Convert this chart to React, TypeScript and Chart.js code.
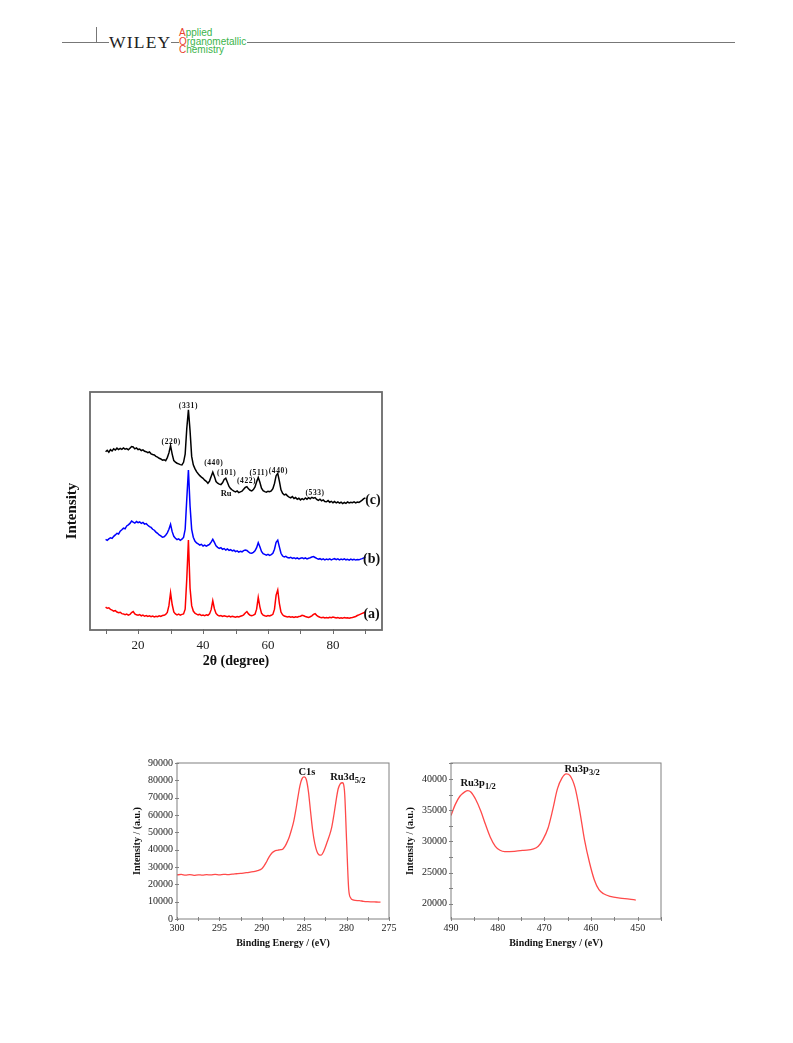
import React, { useEffect, useRef } from 'react';
import { Chart, registerables } from 'chart.js';

Chart.register(...registerables);

const SERIF = '"Liberation Serif", "Times New Roman", serif';
const SANS = '"Liberation Sans", Arial, sans-serif';

// ---------------- XRD (top chart) ----------------
const xrdTheta = [
  10, 10.5, 11, 11.5, 12, 12.5, 13, 13.5, 14, 14.5,
  15, 15.5, 16, 16.5, 17, 17.5, 18, 18.5, 19, 19.5,
  20, 20.5, 21, 21.5, 22, 22.5, 23, 23.5, 24, 24.5,
  25, 25.5, 26, 26.5, 27, 27.5, 28, 28.5, 29, 29.5,
  30, 30.5, 31, 31.5, 32, 32.5, 33, 33.5, 34, 34.5,
  35, 35.5, 36, 36.5, 37, 37.5, 38, 38.5, 39, 39.5,
  40, 40.5, 41, 41.5, 42, 42.5, 43, 43.5, 44, 44.5,
  45, 45.5, 46, 46.5, 47, 47.5, 48, 48.5, 49, 49.5,
  50, 50.5, 51, 51.5, 52, 52.5, 53, 53.5, 54, 54.5,
  55, 55.5, 56, 56.5, 57, 57.5, 58, 58.5, 59, 59.5,
  60, 60.5, 61, 61.5, 62, 62.5, 63, 63.5, 64, 64.5,
  65, 65.5, 66, 66.5, 67, 67.5, 68, 68.5, 69, 69.5,
  70, 70.5, 71, 71.5, 72, 72.5, 73, 73.5, 74, 74.5,
  75, 75.5, 76, 76.5, 77, 77.5, 78, 78.5, 79, 79.5,
  80, 80.5, 81, 81.5, 82, 82.5, 83, 83.5, 84, 84.5,
  85, 85.5, 86, 86.5, 87, 87.5, 88, 88.5, 89, 89.5,
  90,
];

// (a) red
const xrdA = [
  8.9, 8.4, 8.6, 7.9, 7.6, 7.2, 7.4, 6.8, 6.5, 6.7,
  6.1, 6.0, 5.7, 5.9, 5.5, 5.8, 6.6, 7.0, 6.0, 5.6,
  5.4, 5.7, 5.2, 5.5, 5.0, 5.3, 4.9, 5.2, 4.8, 5.1,
  4.7, 5.0, 4.8, 5.2, 4.9, 5.3, 5.4, 5.8, 6.6, 9.5,
  15.0, 10.0, 6.8, 6.0, 5.6, 5.9, 5.5, 5.8, 6.0, 8.0,
  21.0, 37.4, 17.0, 9.5, 7.2, 6.3, 5.9, 5.6, 5.8, 5.3,
  5.5, 5.2, 5.6, 5.4, 6.0, 7.8, 11.6, 8.2, 6.2, 5.5,
  5.1, 5.3, 4.9, 5.2, 5.0, 4.8, 5.1, 4.7, 5.0, 4.8,
  4.6, 4.9, 4.7, 5.0, 5.2, 5.6, 6.4, 7.0, 6.0, 5.4,
  5.2, 5.5, 5.9, 8.0, 13.0, 9.0, 6.3, 5.5, 5.2, 5.0,
  5.3, 5.1, 5.4, 5.8, 8.0, 14.0, 16.2, 10.5, 6.8, 5.6,
  5.1, 4.9, 4.7, 4.9, 4.6, 4.8, 4.5, 4.8, 4.6, 4.9,
  5.0, 5.4, 5.2, 4.9, 4.7, 4.5, 4.8, 5.2, 5.8, 6.1,
  5.4, 4.9, 4.6, 4.4, 4.6, 4.3, 4.5, 4.3, 4.6, 4.4,
  4.7, 4.5, 4.3, 4.5, 4.2, 4.4, 4.2, 4.5, 4.3, 4.4,
  4.2, 4.4, 4.5, 4.7, 4.9, 5.3, 5.6, 5.9, 6.2, 6.5,
  6.8,
];

// (b) blue
const xrdB = [
  37.7, 37.3, 37.9, 38.4, 38.1, 39.0, 39.6, 40.3, 40.0, 41.2,
  41.8, 42.5, 42.2, 43.4, 43.9, 44.5, 45.5, 45.0, 44.6, 45.3,
  44.8, 45.1, 44.5, 44.9, 44.2, 44.4, 43.7, 43.1, 42.8, 42.0,
  41.6, 40.8, 40.3, 39.6, 39.2, 38.6, 38.8, 39.5, 40.5, 42.0,
  44.1, 41.0, 39.0, 38.2, 37.6, 37.9, 37.3, 37.8, 38.5, 42.0,
  55.0, 67.2, 52.0, 42.0, 38.6, 37.0, 36.2, 35.8, 35.3, 35.6,
  34.9, 35.3, 34.8, 35.2, 35.6, 36.5, 37.7, 36.4, 35.0, 34.3,
  33.9, 34.2, 33.5, 33.8, 33.2, 33.6, 33.0, 33.3, 32.8, 33.1,
  32.5, 32.8, 32.3, 32.6, 32.4, 32.9, 33.2, 33.0, 32.4, 31.9,
  31.8, 32.2, 32.8, 34.2, 36.3, 34.6, 32.6, 31.6, 31.3, 31.0,
  31.3, 30.9, 31.2, 31.8, 33.5, 36.5, 37.4, 34.5, 31.8, 30.6,
  30.2, 30.5, 30.0, 29.8, 30.1, 29.6, 29.9, 29.5, 29.8, 29.4,
  29.7, 29.9, 29.5, 29.8, 29.4, 29.7, 29.9, 30.2, 30.4, 30.0,
  29.6, 29.3, 29.5, 29.1, 29.4, 29.0, 29.3, 29.1, 29.4, 29.0,
  29.3, 29.5, 29.1, 29.4, 29.0, 29.3, 29.1, 29.4, 29.0, 29.2,
  28.9, 29.3, 29.0, 29.2, 28.9, 29.1, 29.0, 29.3, 29.5, 29.8,
  30.2,
];

// (c) black
const xrdC = [
  75.0, 75.6, 74.8, 75.9, 75.3, 76.2, 75.7, 76.5, 75.9, 76.4,
  76.0, 76.6, 76.1, 76.3, 75.8, 76.5, 77.2, 77.0, 76.2, 76.6,
  75.9, 76.1, 75.5, 75.8, 75.2, 75.0, 74.6, 74.9, 74.1, 73.8,
  73.6, 73.0, 72.7, 72.2, 71.9, 71.4, 71.6, 71.2, 72.5, 74.5,
  77.6, 74.0, 71.2, 70.6, 70.1, 69.8, 69.5, 69.4, 70.5, 74.0,
  85.0, 92.8, 84.0, 73.0, 69.4, 67.8, 66.5, 65.6, 64.8, 64.2,
  63.7, 62.9, 62.4, 61.6, 62.5, 64.5, 66.3, 64.5, 62.3, 61.6,
  61.2, 61.0, 61.8, 63.2, 63.7, 62.0, 60.2, 59.3, 58.7, 58.2,
  57.9, 58.3, 57.6, 57.9, 58.2, 59.0, 59.8, 60.1, 59.2, 58.6,
  58.3, 58.9, 60.0, 62.2, 64.0, 62.0, 59.5, 58.4, 58.0, 57.8,
  58.2, 58.0, 58.3, 59.3, 61.5, 64.8, 65.8, 62.5, 58.8, 57.3,
  56.6, 56.9, 56.2, 55.7, 55.4, 55.9, 55.1, 55.5, 54.8, 55.2,
  54.5, 55.0, 54.6, 55.3, 54.8, 55.4, 55.0, 55.6, 55.2, 55.5,
  54.7, 54.3, 54.8, 54.1, 54.5, 53.8, 53.7, 54.2, 53.5, 53.9,
  53.3, 53.8, 53.2, 53.6, 53.1, 53.5, 52.9, 53.4, 53.0, 53.6,
  53.2, 53.5, 53.3, 53.7, 53.2, 53.6, 53.4, 53.9, 54.4, 55.0,
  55.4,
];

const xrdTickValues = [10, 20, 30, 40, 50, 60, 70, 80, 90];
const xrdTickLabels = [20, 40, 60, 80];

const xrdHklText = ['(331)', '(220)', '(440)', '(101)', 'Ru', '(422)', '(511)', '(440)', '(533)'];
const xrdHklX = [35.5, 30.2, 43.3, 47.3, 47.1, 53.4, 57.2, 63.2, 74.5];
const xrdHklY = [94.6, 79.0, 70.1, 65.8, 57.0, 62.3, 65.8, 66.8, 57.3];

const xrdCurveText = ['(a)', '(b)', '(c)'];
const xrdCurveX = [91.9, 91.9, 92.3];
const xrdCurveY = [6.0, 29.2, 54.5];

// ---------------- XPS C1s / Ru3d ----------------
const xps1Energy = [
  300, 299.5, 299, 298.5, 298, 297.5, 297, 296.5, 296, 295.5,
  295, 294.5, 294, 293.5, 293, 292.5, 292, 291.5, 291, 290.5,
  290,
  289.75, 289.5, 289.25, 289, 288.75, 288.5, 288.25, 288, 287.75, 287.5,
  287.25, 287, 286.75, 286.5, 286.25, 286, 285.75, 285.5, 285.25, 285,
  284.75, 284.5, 284.25, 284, 283.75, 283.5, 283.25, 283, 282.75, 282.5,
  282.25, 282, 281.75, 281.5, 281.25, 281, 280.75, 280.5, 280.25, 280,
  279.75, 279.5, 279.25, 279,
  278.5, 278, 277.5, 277, 276.5, 276,
];
const xps1Intensity = [
  25400, 25700, 25300, 25600, 25200, 25500, 25300, 25600, 25400, 25700,
  25500, 25800, 25600, 25900, 26100, 26300, 26600, 26900, 27300, 27900,
  29000,
  30500, 32500, 34800, 36800, 38400, 39200, 39600, 39800, 40000, 40400,
  42000, 44500, 47500, 51500, 56000, 62500, 70000, 77000, 81000, 82000,
  80500, 73500, 62000, 51000, 43500, 39000, 37000, 36800, 38500, 41500,
  45000, 48500, 53000, 60000, 68000, 75000, 78000, 78600, 74000, 45000,
  17000, 12000, 11000, 10700,
  10600, 10200, 10000, 9900, 9800, 9700,
];
const xps1XTicks = [275, 277.5, 280, 282.5, 285, 287.5, 290, 292.5, 295, 297.5, 300];
const xps1XLabels = [275, 280, 285, 290, 295, 300];
const xps1YTicks = [0, 10000, 20000, 30000, 40000, 50000, 60000, 70000, 80000, 90000];

// ---------------- XPS Ru3p ----------------
const xps2Energy = [
  490, 489.1, 488.1, 487.05, 486.4, 485.7, 484.7, 483.6, 482.6, 481.6,
  480.5, 479.5, 478.5, 476.4, 474.4, 472.3, 471.3, 470.3, 469.2, 468.2,
  467.2, 466.2, 465.3, 464.5, 463.4, 462.4, 461.4, 460.3, 459.3, 458.3,
  457.3, 455.9, 453.8, 451.8, 450.4,
];
const xps2Intensity = [
  34120, 35880, 37220, 37920, 38130, 37860, 36690, 34810, 32680, 30700,
  29200, 28560, 28340, 28400, 28560, 28770, 29200, 30270, 32140, 35080,
  38400, 40160, 40800, 40540, 38560, 34810, 30270, 26520, 23850, 22250,
  21600, 21180, 20900, 20750, 20590,
];
const xps2XTicks = [445, 450, 455, 460, 465, 470, 475, 480, 485, 490];
const xps2XLabels = [450, 460, 470, 480, 490];
const xps2YTicks = [20000, 22500, 25000, 27500, 30000, 32500, 35000, 37500, 40000, 42500];
const xps2YLabels = [20000, 25000, 30000, 35000, 40000];

// ---------------- helpers ----------------
type Note = { text: string; sub?: string; x: number; y: number; size: number; subSize?: number; spacing?: number };

function framePlugin(color: string, width: number, tin: number, tout: number, yTicks: boolean) {
  return {
    id: 'frame',
    afterDatasetsDraw(chart: any) {
      const { ctx, chartArea: a, scales } = chart;
      ctx.save();
      ctx.strokeStyle = color;
      ctx.lineWidth = width;
      ctx.strokeRect(a.left, a.top, a.right - a.left, a.bottom - a.top);
      ctx.lineWidth = 1;
      const xs = scales.x;
      xs.ticks.forEach((t: any) => {
        const p = Math.round(xs.getPixelForValue(t.value)) + 0.5;
        ctx.beginPath();
        ctx.moveTo(p, a.bottom - tin);
        ctx.lineTo(p, a.bottom + tout);
        ctx.stroke();
      });
      if (yTicks) {
        const ys = scales.y;
        ys.ticks.forEach((t: any) => {
          const p = Math.round(ys.getPixelForValue(t.value)) + 0.5;
          ctx.beginPath();
          ctx.moveTo(a.left - tout, p);
          ctx.lineTo(a.left + tin, p);
          ctx.stroke();
        });
      }
      ctx.restore();
    },
  };
}

function notesPlugin(notes: Note[]) {
  return {
    id: 'notes',
    afterDatasetsDraw(chart: any) {
      const { ctx } = chart;
      const xs = chart.scales.x;
      const ys = chart.scales.y;
      ctx.save();
      ctx.fillStyle = '#111';
      ctx.textBaseline = 'middle';
      ctx.textAlign = 'left';
      for (const n of notes) {
        const px = xs.getPixelForValue(n.x);
        const py = ys.getPixelForValue(n.y);
        (ctx as any).letterSpacing = (n.spacing || 0) + 'px';
        ctx.font = `bold ${n.size}px ${SERIF}`;
        const w1 = ctx.measureText(n.text).width;
        let w2 = 0;
        if (n.sub) {
          ctx.font = `bold ${n.subSize}px ${SERIF}`;
          w2 = ctx.measureText(n.sub).width;
        }
        const x0 = px - (w1 + w2) / 2;
        ctx.font = `bold ${n.size}px ${SERIF}`;
        ctx.fillText(n.text, x0, py);
        if (n.sub) {
          ctx.font = `bold ${n.subSize}px ${SERIF}`;
          ctx.fillText(n.sub, x0 + w1, py + n.size * 0.38);
        }
      }
      ctx.restore();
    },
  };
}

function setTicks(values: number[]) {
  return (scale: any) => {
    scale.ticks = values.map((v) => ({ value: v }));
  };
}

function ChartCanvas(props: { left: number; top: number; width: number; height: number; make: () => any }) {
  const ref = useRef<HTMLCanvasElement>(null);
  useEffect(() => {
    const chart = new Chart(ref.current as HTMLCanvasElement, props.make());
    return () => chart.destroy();
  }, []);
  return (
    <canvas
      ref={ref}
      width={props.width}
      height={props.height}
      style={{ position: 'absolute', left: props.left, top: props.top, width: props.width, height: props.height }}
    />
  );
}

function makeXrd() {
  const line = (ys: number[], color: string) => ({
    data: xrdTheta.map((x, i) => ({ x, y: ys[i] })),
    borderColor: color,
    borderWidth: 1.5,
    pointRadius: 0,
    fill: false,
    tension: 0,
  });
  const notes: Note[] = [
    ...xrdHklText.map((t, i) => ({ text: t, x: xrdHklX[i], y: xrdHklY[i], size: t === 'Ru' ? 8.5 : 7.5, spacing: t === 'Ru' ? 0 : 0.6 })),
    ...xrdCurveText.map((t, i) => ({ text: t, x: xrdCurveX[i], y: xrdCurveY[i], size: 14 })),
  ];
  return {
    type: 'line',
    data: { datasets: [line(xrdA, '#ff0000'), line(xrdB, '#0000ff'), line(xrdC, '#000000')] },
    options: {
      animation: false,
      responsive: false,
      layout: { padding: { top: 14, right: 18, left: 0, bottom: 0 } },
      plugins: { legend: { display: false }, tooltip: { enabled: false } },
      scales: {
        x: {
          type: 'linear',
          min: 5.2,
          max: 95.1,
          afterBuildTicks: setTicks(xrdTickValues),
          afterFit: (s: any) => { s.height = 50; },
          grid: { display: false, drawTicks: false },
          border: { display: false },
          ticks: {
            autoSkip: false,
            maxRotation: 0,
            padding: 8,
            color: '#222',
            font: { family: SERIF, size: 13 },
            callback: (v: any) => (xrdTickLabels.includes(Number(v)) ? String(v) : ''),
          },
          title: { display: true, text: '2θ (degree)', color: '#111', font: { family: SERIF, size: 14, weight: 'bold' }, padding: { top: 0, bottom: 10 } },
        },
        y: {
          type: 'linear',
          min: -0.85,
          max: 100.4,
          afterFit: (s: any) => { s.width = 30; },
          grid: { display: false, drawTicks: false },
          border: { display: false },
          ticks: { display: false },
          title: { display: true, text: 'Intensity', color: '#111', font: { family: SERIF, size: 15, weight: 'bold' }, padding: { top: 3, bottom: 0 } },
        },
      },
    },
    plugins: [framePlugin('#6a6a6a', 1.8, 1, 4, false), notesPlugin(notes)],
  };
}

function makeXps(opts: {
  xs: number[]; ys: number[]; xmin: number; xmax: number; ymin: number; ymax: number;
  xTicks: number[]; xLabels: number[]; yTicks: number[]; yLabels: number[];
  yWidth: number; padRight: number; yTitlePad: number; notes: Note[];
}) {
  return {
    type: 'line',
    data: {
      datasets: [{
        data: opts.xs.map((x, i) => ({ x, y: opts.ys[i] })),
        borderColor: '#ff4a4a',
        borderWidth: 1.3,
        pointRadius: 0,
        fill: false,
        cubicInterpolationMode: 'monotone',
      }],
    },
    options: {
      animation: false,
      responsive: false,
      layout: { padding: { top: 13, right: opts.padRight, left: 0, bottom: 0 } },
      plugins: { legend: { display: false }, tooltip: { enabled: false } },
      scales: {
        x: {
          type: 'linear',
          reverse: true,
          min: opts.xmin,
          max: opts.xmax,
          afterBuildTicks: setTicks(opts.xTicks),
          afterFit: (s: any) => { s.height = 41; },
          grid: { display: false, drawTicks: false },
          border: { display: false },
          ticks: {
            autoSkip: false,
            maxRotation: 0,
            padding: 3,
            color: '#222',
            font: { family: SERIF, size: 10 },
            callback: (v: any) => (opts.xLabels.includes(Number(v)) ? String(v) : ''),
          },
          title: { display: true, text: 'Binding Energy / (eV)', color: '#111', font: { family: SERIF, size: 10, weight: 'bold' }, padding: { top: 0, bottom: 11 } },
        },
        y: {
          type: 'linear',
          min: opts.ymin,
          max: opts.ymax,
          afterBuildTicks: setTicks(opts.yTicks),
          afterFit: (s: any) => { s.width = opts.yWidth; },
          grid: { display: false, drawTicks: false },
          border: { display: false },
          ticks: {
            autoSkip: false,
            padding: 4,
            color: '#222',
            font: { family: SERIF, size: 10 },
            callback: (v: any) => (opts.yLabels.includes(Number(v)) ? String(v) : ''),
          },
          title: { display: true, text: 'Intensity / (a.u.)', color: '#111', font: { family: SERIF, size: 10, weight: 'bold' }, padding: { top: opts.yTitlePad, bottom: 0 } },
        },
      },
    },
    plugins: [framePlugin('#808080', 1, 2, 2, true), notesPlugin(opts.notes)],
  };
}

function makeXps1() {
  return makeXps({
    xs: xps1Energy, ys: xps1Intensity, xmin: 275, xmax: 300, ymin: 0, ymax: 90000,
    xTicks: xps1XTicks, xLabels: xps1XLabels, yTicks: xps1YTicks, yLabels: xps1YTicks,
    yWidth: 67, padRight: 21, yTitlePad: 21,
    notes: [
      { text: 'C1s', x: 284.67, y: 84500, size: 10.5 },
      { text: 'Ru3d', sub: '5/2', x: 279.85, y: 81900, size: 10.5, subSize: 8.5 },
    ],
  });
}

function makeXps2() {
  return makeXps({
    xs: xps2Energy, ys: xps2Intensity, xmin: 445, xmax: 490, ymin: 17550, ymax: 42550,
    xTicks: xps2XTicks, xLabels: xps2XLabels, yTicks: xps2YTicks, yLabels: xps2YLabels,
    yWidth: 61, padRight: 19, yTitlePad: 14,
    notes: [
      { text: 'Ru3p', sub: '1/2', x: 484.2, y: 39350, size: 10.5, subSize: 8.5 },
      { text: 'Ru3p', sub: '3/2', x: 461.9, y: 41600, size: 10.5, subSize: 8.5 },
    ],
  });
}

function Header() {
  const abs = (s: any) => ({ position: 'absolute' as const, ...s });
  const green = '#3bb44a';
  const red = '#e8412c';
  const line = (t: string, first: string) => (
    <div style={{ whiteSpace: 'nowrap' }}>
      <span style={{ color: red }}>{first}</span>
      <span style={{ color: green }}>{t}</span>
    </div>
  );
  return (
    <>
      <div style={abs({ left: 62, top: 42, width: 47, height: 1, background: '#777' })} />
      <div style={abs({ left: 96, top: 27, width: 1, height: 15, background: '#777' })} />
      <div style={abs({ left: 109, top: 31, fontFamily: SERIF, fontSize: 17.5, letterSpacing: 1.2, color: '#222', lineHeight: '22px' })}>WILEY</div>
      <div style={abs({ left: 171, top: 42, width: 8, height: 1, background: '#777' })} />
      <div style={abs({ left: 179, top: 29, fontFamily: SANS, fontSize: 10, lineHeight: '8.7px' })}>
        {line('pplied', 'A')}
        {line('rganometallic', 'O')}
        {line('hemistry', 'C')}
      </div>
      <div style={abs({ left: 247, top: 42, width: 488, height: 1, background: '#777' })} />
    </>
  );
}

export default function App() {
  return (
    <div>
      <Header />
      <ChartCanvas left={60} top={378} width={340} height={302} make={makeXrd} />
      <ChartCanvas left={110} top={750} width={300} height={210} make={makeXps1} />
      <ChartCanvas left={390} top={750} width={290} height={210} make={makeXps2} />
    </div>
  );
}
